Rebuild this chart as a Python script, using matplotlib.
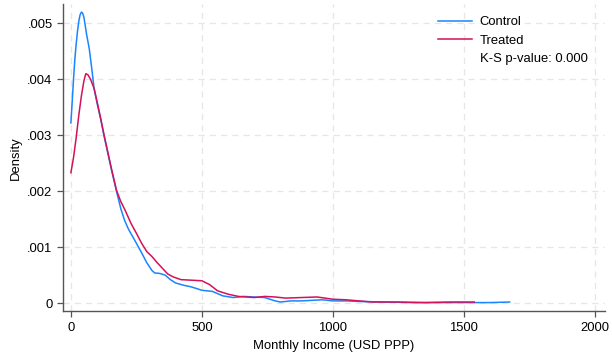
import matplotlib
matplotlib.use("Agg")
import matplotlib.pyplot as plt
from matplotlib.lines import Line2D
from matplotlib.ticker import FuncFormatter

plt.rcParams['font.family'] = ['Liberation Sans', 'DejaVu Sans']

# Kernel density estimates of monthly income (USD PPP)
control_x = [0, 5, 10, 15, 20, 25, 30, 35, 40, 45, 50, 60, 70, 80, 89, 100, 113,
             126, 140, 155, 174, 191, 205, 220, 237, 250,
             270, 290, 310, 320, 340, 360, 380, 400, 430, 460, 500, 540, 580, 620,
             660, 700, 740, 780, 800, 840, 880, 920, 960, 1000, 1050, 1100, 1200,
             1300, 1400, 1500, 1600, 1675]
control_y = [0.00322, 0.0036, 0.0040, 0.00435, 0.00462, 0.00485, 0.00503, 0.00515,
             0.0052, 0.00518, 0.0051, 0.0048, 0.00455, 0.00418, 0.00382, 0.00357,
             0.0033, 0.003, 0.0027, 0.00238, 0.002, 0.00168, 0.00148, 0.00132,
             0.00118, 0.00107, 0.0009, 0.00072, 0.00058, 0.00054, 0.00053, 0.0005,
             0.00042, 0.00036, 0.00032, 0.00029, 0.00023, 0.00021, 0.00013, 0.0001,
             0.00012, 0.00011, 0.0001, 0.00004, 0.00002, 0.00004, 0.00004, 0.00005,
             0.00006, 0.00004, 0.00004, 0.00003, 0.00002, 0.00001, 0.00001, 0.00001,
             0.00001, 0.00002]

treated_x = [0, 10, 20, 30, 40, 50, 57, 65, 75, 89, 100, 113, 126, 140, 155, 174,
             190, 206, 230, 250, 270, 290, 310, 330, 350, 370, 390, 420, 460, 500,
             530, 560, 600, 640, 700, 740, 780, 820, 880, 940, 1000, 1050, 1100,
             1150, 1250, 1350, 1450, 1540]
treated_y = [0.00233, 0.0026, 0.00295, 0.00335, 0.0037, 0.00398, 0.0041, 0.00408,
             0.004, 0.00383, 0.0036, 0.00332, 0.00302, 0.00272, 0.0024, 0.00202,
             0.00182, 0.00167, 0.00142, 0.00125, 0.00107, 0.00092, 0.00083, 0.00072,
             0.00062, 0.00052, 0.00047, 0.00042, 0.00041, 0.0004, 0.00033, 0.00022,
             0.00016, 0.00012, 0.0001, 0.00012, 0.00011, 0.00009, 0.0001, 0.00011,
             0.00007, 0.00006, 0.00004, 0.00002, 0.00002, 0.00001, 0.00002, 0.00002]

x_ticks = [0, 500, 1000, 1500, 2000]
y_ticks = [0, 0.001, 0.002, 0.003, 0.004, 0.005]
ks_label = 'K-S p-value: 0.000'

blue = '#1A85FF'
red = '#D41159'

fig = plt.figure(figsize=(6.12, 3.56), dpi=100)
ax = fig.add_axes([0.103, 0.126, 0.885, 0.862])

ax.plot(control_x, control_y, color=blue, lw=1.1, label='Control')
ax.plot(treated_x, treated_y, color=red, lw=1.1, label='Treated')

ax.set_xlim(-30, 2038)
ax.set_ylim(-0.000143, 0.00534)
ax.set_xticks(x_ticks)
ax.set_yticks(y_ticks)
ax.yaxis.set_major_formatter(FuncFormatter(
    lambda v, p: '0' if v == 0 else ('%.3f' % v).lstrip('0')))

ax.grid(True, color='#e6e6e6', linestyle=(0, (5, 4)), linewidth=0.9)
ax.set_axisbelow(True)
for s in ['top', 'right']:
    ax.spines[s].set_visible(False)
for s in ['left', 'bottom']:
    ax.spines[s].set_color('#555555')
    ax.spines[s].set_linewidth(1.0)
ax.tick_params(axis='both', direction='out', length=4.5, width=0.9,
               color='#555555', labelsize=9.4, labelcolor='black')
ax.tick_params(axis='y', pad=3)

ax.set_xlabel('Monthly Income (USD PPP)', fontsize=9.4)
ax.set_ylabel('Density', fontsize=9.4)

handles, labels = ax.get_legend_handles_labels()
handles.append(Line2D([], [], color='none'))
labels.append(ks_label)
leg = ax.legend(handles, labels, loc='upper right', bbox_to_anchor=(0.99, 1.0),
                frameon=False, fontsize=9.4, handlelength=2.6,
                handletextpad=0.6, labelspacing=0.5)

fig.savefig('out.png', dpi=100)
